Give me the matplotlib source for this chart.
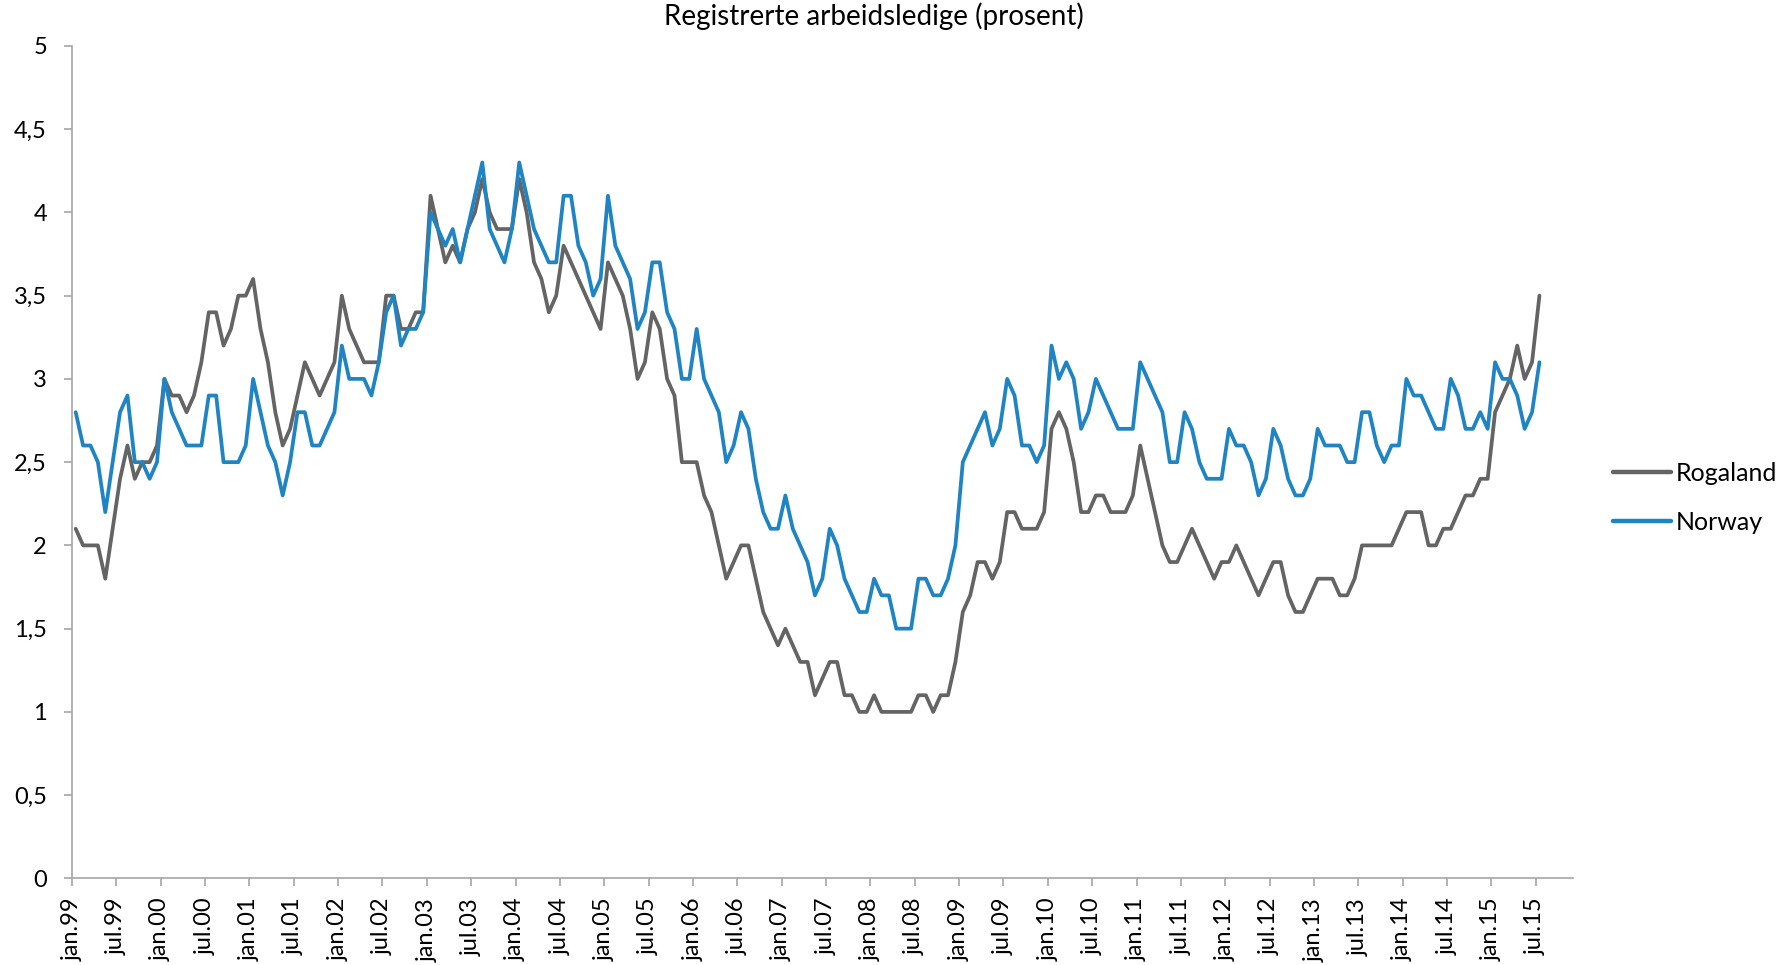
import matplotlib
matplotlib.use("Agg")
import matplotlib.pyplot as plt
from matplotlib.ticker import FixedLocator, FuncFormatter

plt.rcParams['font.family'] = ['Lato', 'DejaVu Sans']

# monthly values, jan.99 .. jul.15
rogaland = [
    2.1, 2.0, 2.0, 2.0, 1.8, 2.1, 2.4, 2.6, 2.4, 2.5, 2.5, 2.6,
    3.0, 2.9, 2.9, 2.8, 2.9, 3.1, 3.4, 3.4, 3.2, 3.3, 3.5, 3.5,
    3.6, 3.3, 3.1, 2.8, 2.6, 2.7, 2.9, 3.1, 3.0, 2.9, 3.0, 3.1,
    3.5, 3.3, 3.2, 3.1, 3.1, 3.1, 3.5, 3.5, 3.3, 3.3, 3.4, 3.4,
    4.1, 3.9, 3.7, 3.8, 3.7, 3.9, 4.0, 4.2, 4.0, 3.9, 3.9, 3.9,
    4.2, 4.0, 3.7, 3.6, 3.4, 3.5, 3.8, 3.7, 3.6, 3.5, 3.4, 3.3,
    3.7, 3.6, 3.5, 3.3, 3.0, 3.1, 3.4, 3.3, 3.0, 2.9, 2.5, 2.5,
    2.5, 2.3, 2.2, 2.0, 1.8, 1.9, 2.0, 2.0, 1.8, 1.6, 1.5, 1.4,
    1.5, 1.4, 1.3, 1.3, 1.1, 1.2, 1.3, 1.3, 1.1, 1.1, 1.0, 1.0,
    1.1, 1.0, 1.0, 1.0, 1.0, 1.0, 1.1, 1.1, 1.0, 1.1, 1.1, 1.3,
    1.6, 1.7, 1.9, 1.9, 1.8, 1.9, 2.2, 2.2, 2.1, 2.1, 2.1, 2.2,
    2.7, 2.8, 2.7, 2.5, 2.2, 2.2, 2.3, 2.3, 2.2, 2.2, 2.2, 2.3,
    2.6, 2.4, 2.2, 2.0, 1.9, 1.9, 2.0, 2.1, 2.0, 1.9, 1.8, 1.9,
    1.9, 2.0, 1.9, 1.8, 1.7, 1.8, 1.9, 1.9, 1.7, 1.6, 1.6, 1.7,
    1.8, 1.8, 1.8, 1.7, 1.7, 1.8, 2.0, 2.0, 2.0, 2.0, 2.0, 2.1,
    2.2, 2.2, 2.2, 2.0, 2.0, 2.1, 2.1, 2.2, 2.3, 2.3, 2.4, 2.4,
    2.8, 2.9, 3.0, 3.2, 3.0, 3.1, 3.5,
]

norway = [
    2.8, 2.6, 2.6, 2.5, 2.2, 2.5, 2.8, 2.9, 2.5, 2.5, 2.4, 2.5,
    3.0, 2.8, 2.7, 2.6, 2.6, 2.6, 2.9, 2.9, 2.5, 2.5, 2.5, 2.6,
    3.0, 2.8, 2.6, 2.5, 2.3, 2.5, 2.8, 2.8, 2.6, 2.6, 2.7, 2.8,
    3.2, 3.0, 3.0, 3.0, 2.9, 3.1, 3.4, 3.5, 3.2, 3.3, 3.3, 3.4,
    4.0, 3.9, 3.8, 3.9, 3.7, 3.9, 4.1, 4.3, 3.9, 3.8, 3.7, 3.9,
    4.3, 4.1, 3.9, 3.8, 3.7, 3.7, 4.1, 4.1, 3.8, 3.7, 3.5, 3.6,
    4.1, 3.8, 3.7, 3.6, 3.3, 3.4, 3.7, 3.7, 3.4, 3.3, 3.0, 3.0,
    3.3, 3.0, 2.9, 2.8, 2.5, 2.6, 2.8, 2.7, 2.4, 2.2, 2.1, 2.1,
    2.3, 2.1, 2.0, 1.9, 1.7, 1.8, 2.1, 2.0, 1.8, 1.7, 1.6, 1.6,
    1.8, 1.7, 1.7, 1.5, 1.5, 1.5, 1.8, 1.8, 1.7, 1.7, 1.8, 2.0,
    2.5, 2.6, 2.7, 2.8, 2.6, 2.7, 3.0, 2.9, 2.6, 2.6, 2.5, 2.6,
    3.2, 3.0, 3.1, 3.0, 2.7, 2.8, 3.0, 2.9, 2.8, 2.7, 2.7, 2.7,
    3.1, 3.0, 2.9, 2.8, 2.5, 2.5, 2.8, 2.7, 2.5, 2.4, 2.4, 2.4,
    2.7, 2.6, 2.6, 2.5, 2.3, 2.4, 2.7, 2.6, 2.4, 2.3, 2.3, 2.4,
    2.7, 2.6, 2.6, 2.6, 2.5, 2.5, 2.8, 2.8, 2.6, 2.5, 2.6, 2.6,
    3.0, 2.9, 2.9, 2.8, 2.7, 2.7, 3.0, 2.9, 2.7, 2.7, 2.8, 2.7,
    3.1, 3.0, 3.0, 2.9, 2.7, 2.8, 3.1,
]

tick_labels = [
    "jan.99", "jul.99", "jan.00", "jul.00", "jan.01", "jul.01", "jan.02", "jul.02",
    "jan.03", "jul.03", "jan.04", "jul.04", "jan.05", "jul.05", "jan.06", "jul.06",
    "jan.07", "jul.07", "jan.08", "jul.08", "jan.09", "jul.09", "jan.10", "jul.10",
    "jan.11", "jul.11", "jan.12", "jul.12", "jan.13", "jul.13", "jan.14", "jul.14",
    "jan.15", "jul.15",
]

gray = '#646464'
blue = '#1f84c4'
axis_col = '#a6a6a6'
fs = 17

fig = plt.figure(figsize=(17.91, 9.65), dpi=100)
ax = fig.add_axes([72/1791, 1-878.4/965, (1572.7-72)/1791, (878.4-45.9)/965])

months = list(range(len(rogaland)))
ax.plot(months, rogaland, color=gray, lw=2.7, solid_capstyle='round', label='Rogaland')
ax.plot(months, norway, color=blue, lw=2.7, solid_capstyle='round', label='Norway')

ax.set_xlim(-0.5, 202.5)
ax.set_ylim(0, 5)

# ticks sit on month boundaries, points in the middle of each month
ax.xaxis.set_major_locator(FixedLocator([6*k - 0.5 for k in range(len(tick_labels))]))
ax.set_xticklabels(tick_labels, rotation=90, fontsize=fs)
ax.yaxis.set_major_locator(FixedLocator([k*0.5 for k in range(11)]))
ax.yaxis.set_major_formatter(FuncFormatter(lambda v, p: ('%g' % v).replace('.', ',')))

for s in ['top', 'right']:
    ax.spines[s].set_visible(False)
for s in ['left', 'bottom']:
    ax.spines[s].set_color(axis_col)
    ax.spines[s].set_linewidth(1.2)
ax.tick_params(axis='both', colors=axis_col, labelcolor='black', labelsize=fs,
               length=6, width=1.2, direction='out')
ax.tick_params(axis='y', pad=12)
ax.tick_params(axis='x', pad=8)

fig.text(873.5/1791, 1-25/965, 'Registrerte arbeidsledige (prosent)',
         ha='center', va='baseline', fontsize=20)

leg = fig.legend(loc='center left', bbox_to_anchor=(1613/1791, 1-498/965), frameon=False,
                 fontsize=fs+1, handlelength=2.3, handletextpad=0.2, labelspacing=1.05,
                 borderpad=0, borderaxespad=0)
for h in leg.get_lines():
    h.set_linewidth(3.2)

plt.savefig('out.png', dpi=100)
